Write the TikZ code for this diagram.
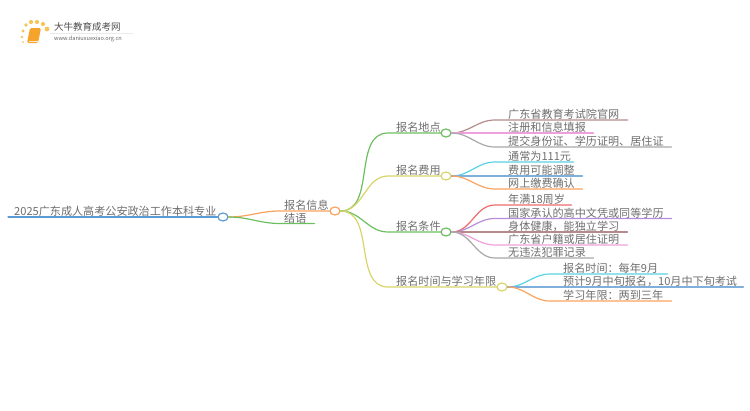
\documentclass[tikz,border=0pt]{standalone}
\usepackage{fontspec}
\setmainfont{Noto Sans CJK SC}
\usepackage{tikz}
\usetikzlibrary{positioning,shapes.geometric}
\usepackage{xcolor}
\definecolor{txtgray}{HTML}{6E6E6E}
\definecolor{rootblue}{HTML}{5B9BD5}
\definecolor{lnorange}{HTML}{F9A35E}
\definecolor{lngreen}{HTML}{6CBF5F}
\definecolor{lnyellow}{HTML}{D8D46A}
\definecolor{lnbrown}{HTML}{B48A8A}
\definecolor{lnpink}{HTML}{EE9FDC}
\definecolor{lngray}{HTML}{A8A8A8}
\definecolor{lncyan}{HTML}{56D3E4}
\definecolor{lnblue}{HTML}{7FB0DC}
\definecolor{lnred}{HTML}{EE6B6B}
\definecolor{lnpurple}{HTML}{B48DDC}
\definecolor{logoyellow}{HTML}{F7C45A}
\definecolor{logoorange}{HTML}{F5A32A}

\begin{document}
\begin{tikzpicture}[x=1pt,y=-1pt,
  every node/.style={font=\fontsize{11.1}{11}\selectfont, text=txtgray},
  topic/.style={
    anchor=south west,
    inner sep=0pt,
    align=left,
    text height=9pt,
    text depth=1pt
  },
  knot/.style={
    ellipse,
    draw=#1,
    fill=white,
    line width=1.2pt,
    minimum width=10pt,
    minimum height=8pt,
    inner sep=0pt
  },
  link/.style={line width=1.2pt, line cap=round}
]
  \useasboundingbox (0,0) rectangle (750,410);

  % Logo
  \fill[logoyellow] (23,31) circle (1.6) (26,25) circle (1.9) (31,22) circle (2.1)
    (37,22) circle (2.1) (43,24) circle (2.1) (47,29) circle (2.4)
    (22,37) circle (1.3) (23,42) circle (1);
  \fill[logoorange, rounded corners=1.5pt] (30,28) -- (41,28) -- (38,43) -- (27,43) -- cycle;
  \draw[white!75!logoorange, line width=0.6pt] (28.5,41) -- (38,41);
  \draw[black!8, line width=0.6pt] (50,33) -- (133,33);
  \node[anchor=west, inner sep=0pt, font=\fontsize{9.5}{10}\selectfont, text=black!70] (logotitle) at (54,27) {大牛教育成考网};
  \node[anchor=west, inner sep=0pt, font=\fontsize{5.6}{6}\selectfont, text=black!60] (logourl) at (54,38.5) {www.daniuxuexiao.org.cn};

  % Root
  \node[topic, text width=204pt] (root) at (14,217) {2025广东成人高考公安政治工作本科专业};
  \node[knot=rootblue] (rootdot) at (223,217) {};
  \draw[link, rootblue] (root.south west) ++(-6,0) -- (rootdot.west);

  % First level
  \node[topic, text width=46pt] (info) at (284,211) {报名信息};
  \node[topic, text width=30pt] (end) at (284,223.5) {结语};
  \node[knot=lnorange] (infodot) at (335,211) {};
  \draw[link, lnorange] (rootdot.east) to[out=0,in=180] ([xshift=-4pt]info.south west) -- (infodot.west);
  \draw[link, lngreen] (rootdot.east) to[out=0,in=180] ([xshift=-4pt]end.south west) -- (end.south east);

  % Second level
  \node[topic, text width=45pt] (place) at (396,133) {报名地点};
  \node[topic, text width=45pt] (fee) at (396,176) {报名费用};
  \node[topic, text width=45pt] (cond) at (396,232) {报名条件};
  \node[topic, text width=101pt] (time) at (396,287) {报名时间与学习年限};
  \node[knot=lngreen] (placedot) at (446,133) {};
  \node[knot=lnyellow] (feedot) at (446,176) {};
  \node[knot=lngreen] (conddot) at (446,232) {};
  \node[knot=lnyellow] (timedot) at (502,287) {};
  \draw[link, lngreen] (infodot.east) to[out=0,in=180] ([xshift=-8pt]place.south west) -- (placedot.west);
  \draw[link, lnyellow] (infodot.east) to[out=0,in=180] ([xshift=-8pt]fee.south west) -- (feedot.west);
  \draw[link, lngreen] (infodot.east) to[out=0,in=180] ([xshift=-8pt]cond.south west) -- (conddot.west);
  \draw[link, lnyellow] (infodot.east) to[out=0,in=180] ([xshift=-8pt]time.south west) -- (timedot.west);

  % Place leaves
  \node[topic, text width=119pt] (place1) at (508,120) {广东省教育考试院官网};
  \node[topic, text width=85pt] (place2) at (508,133) {注册和信息填报};
  \node[topic, text width=163pt] (place3) at (508,147) {提交身份证、学历证明、居住证};
  \draw[link, lnbrown] (placedot.east) to[out=0,in=180] ([xshift=-13pt]place1.south west) -- (place1.south east);
  \draw[link, lnpink] (placedot.east) to[out=0,in=180] ([xshift=-13pt]place2.south west) -- (place2.south east);
  \draw[link, lngray] (placedot.east) to[out=0,in=180] ([xshift=-13pt]place3.south west) -- (place3.south east);

  % Fee leaves
  \node[topic, text width=65pt] (fee1) at (508,162) {通常为111元};
  \node[topic, text width=74pt] (fee2) at (508,176) {费用可能调整};
  \node[topic, text width=74pt] (fee3) at (508,189) {网上缴费确认};
  \draw[link, lncyan] (feedot.east) to[out=0,in=180] ([xshift=-13pt]fee1.south west) -- (fee1.south east);
  \draw[link, lnblue] (feedot.east) to[out=0,in=180] ([xshift=-13pt]fee2.south west) -- (fee2.south east);
  \draw[link, lnorange] (feedot.east) to[out=0,in=180] ([xshift=-13pt]fee3.south west) -- (fee3.south east);

  % Condition leaves
  \node[topic, text width=63pt] (cond1) at (508,205) {年满18周岁};
  \node[topic, text width=163pt] (cond2) at (508,218.5) {国家承认的高中文凭或同等学历};
  \node[topic, text width=119pt] (cond3) at (508,232) {身体健康，能独立学习};
  \node[topic, text width=119pt] (cond4) at (508,245) {广东省户籍或居住证明};
  \node[topic, text width=85pt] (cond5) at (508,258) {无违法犯罪记录};
  \draw[link, lnred] (conddot.east) to[out=0,in=180] ([xshift=-13pt]cond1.south west) -- (cond1.south east);
  \draw[link, lnpurple] (conddot.east) to[out=0,in=180] ([xshift=-13pt]cond2.south west) -- (cond2.south east);
  \draw[link, lnbrown] (conddot.east) to[out=0,in=180] ([xshift=-13pt]cond3.south west) -- (cond3.south east);
  \draw[link, lnpink] (conddot.east) to[out=0,in=180] ([xshift=-13pt]cond4.south west) -- (cond4.south east);
  \draw[link, lngray] (conddot.east) to[out=0,in=180] ([xshift=-13pt]cond5.south west) -- (cond5.south east);

  % Time leaves
  \node[topic, text width=104pt] (time1) at (563,274) {报名时间：每年9月};
  \node[topic, text width=180pt] (time2) at (563,287) {预计9月中旬报名，10月中下旬考试};
  \node[topic, text width=108pt] (time3) at (563,301) {学习年限：两到三年};
  \draw[link, lncyan] (timedot.east) to[out=0,in=180] ([xshift=-13pt]time1.south west) -- (time1.south east);
  \draw[link, lnblue] (timedot.east) to[out=0,in=180] ([xshift=-13pt]time2.south west) -- (time2.south east);
  \draw[link, lnorange] (timedot.east) to[out=0,in=180] ([xshift=-13pt]time3.south west) -- (time3.south east);
\end{tikzpicture}
\end{document}
